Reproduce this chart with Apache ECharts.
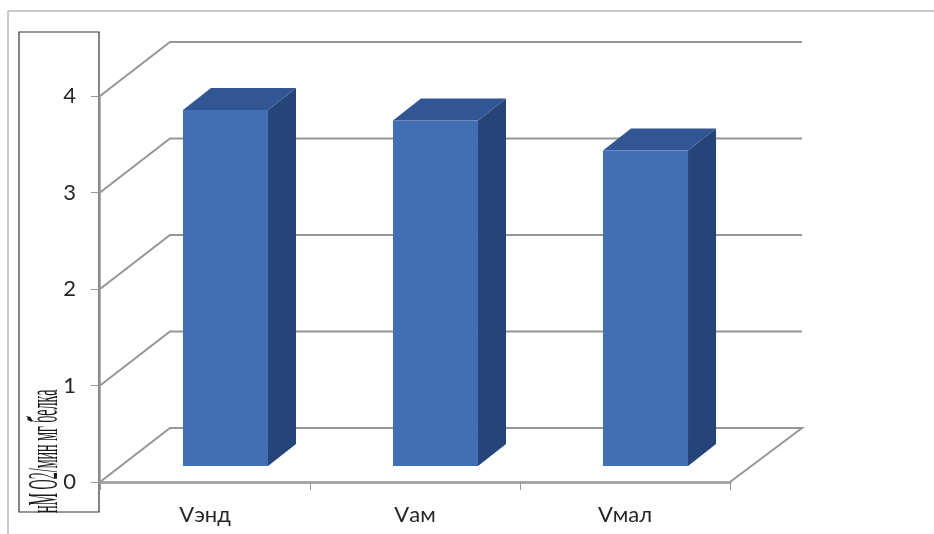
<!DOCTYPE html>
<html><head><meta charset="utf-8">
<style>html,body{margin:0;padding:0;background:#fff}#c{width:934px;height:534px}</style>
<script src="https://cdn.jsdelivr.net/npm/echarts@6/dist/echarts.min.js"></script>
</head><body><div id="c"></div>
<script>
const categories = ['Vэнд', 'Vам', 'Vмал'];
const values = [3.69, 3.58, 3.27];
const yTicks = [0, 1, 2, 3, 4];
const yTitle = 'нМ О2/мин мг белка';
const yTitleAccent = '´';

const FLOOR_DX = 70, FLOOR_DY = -54;
const BAR_SHIFT_X = 20.5, BAR_SHIFT_Y = -16;
const BAR_DX = 28, BAR_DY = -22;
const BAR_FRACTION = 0.405;
const GRID = '#969696', AXIS = '#a6a6a6', FRONT = '#426eb4', TOP = '#325594', SIDE = '#254579';

const chart = echarts.init(document.getElementById('c'), null, {renderer: 'canvas'});
chart.setOption({
  animation: false,
  backgroundColor: '#fff',
  grid: {left: 100, right: 204, top: 96, bottom: 52, containLabel: false},
  xAxis: {
    type: 'category', data: categories,
    axisLine: {lineStyle: {color: AXIS, width: 3}},
    axisTick: {show: true, length: 8, lineStyle: {color: GRID, width: 1}},
    axisLabel: {color: '#262626', fontFamily: 'Lato', fontSize: 22, margin: 22},
    splitLine: {show: false}
  },
  yAxis: {
    type: 'value', min: 0, max: 4, interval: 1,
    axisLine: {show: true, lineStyle: {color: GRID, width: 1.5}},
    axisTick: {show: true, length: 9, lineStyle: {color: GRID, width: 1}},
    axisLabel: {color: '#262626', fontFamily: 'Lato', fontSize: 22, margin: 24,
      formatter: v => yTicks.includes(v) ? String(v) : ''},
    splitLine: {show: false}
  },
  graphic: [
    {type: 'line', silent: true, shape: {x1: 8, y1: 534, x2: 8, y2: 11},
      style: {stroke: '#b9b9b9', lineWidth: 1.5}},
    {type: 'line', silent: true, shape: {x1: 8, y1: 11, x2: 934, y2: 11},
      style: {stroke: '#b9b9b9', lineWidth: 1.5}},
    {type: 'rect', silent: true, shape: {x: 19, y: 32, width: 80, height: 480},
      style: {fill: 'transparent', stroke: '#333', lineWidth: 1.2}},
    {type: 'text', silent: true, x: 67, y: 513, rotation: Math.PI / 2, scaleX: 0.335, scaleY: 1,
      style: {text: yTitle, font: '42px "Liberation Serif"', fill: '#1a1a1a',
        align: 'left', verticalAlign: 'bottom'}},
    {type: 'text', silent: true, x: 55, y: 423, rotation: Math.PI / 2, scaleX: 0.6, scaleY: 1,
      style: {text: yTitleAccent, font: '30px "Liberation Serif"', fill: '#1a1a1a',
        align: 'left', verticalAlign: 'bottom'}}
  ],
  series: [
    {
      type: 'custom', coordinateSystem: 'cartesian2d', silent: true, clip: false, z: 1,
      data: yTicks.map(v => [0, v]),
      encode: {x: 0, y: 1},
      renderItem(params, api) {
        const v = api.value(1);
        const band = api.size([1, 0])[0];
        const a = api.coord([0, v]); const b = api.coord([categories.length - 1, v]);
        const lx = a[0] - band / 2, rx = b[0] + band / 2, y = a[1];
        const pts = [[lx, y], [lx + FLOOR_DX, y + FLOOR_DY], [rx + FLOOR_DX + 2, y + FLOOR_DY]];
        if (v === 0) pts.push([rx, y]);
        return {type: 'polyline', shape: {points: pts},
          style: {stroke: GRID, lineWidth: 2, fill: 'none'}};
      }
    },
    {
      type: 'custom', coordinateSystem: 'cartesian2d', silent: true, clip: false, z: 3,
      data: values.map((v, i) => [i, v]),
      encode: {x: 0, y: 1},
      renderItem(params, api) {
        const i = api.value(0), v = api.value(1);
        const w = api.size([1, 0])[0] * BAR_FRACTION;
        const base = api.coord([i, 0]); const top = api.coord([i, v]);
        const x0 = base[0] + BAR_SHIFT_X - w / 2, x1 = x0 + w;
        const y0 = base[1] + BAR_SHIFT_Y, y1 = top[1] + BAR_SHIFT_Y;
        return {type: 'group', children: [
          {type: 'polygon', shape: {points: [[x1, y1], [x1 + BAR_DX, y1 + BAR_DY], [x1 + BAR_DX, y0 + BAR_DY], [x1, y0]]},
            style: {fill: SIDE}},
          {type: 'polygon', shape: {points: [[x0, y1], [x0 + BAR_DX, y1 + BAR_DY], [x1 + BAR_DX, y1 + BAR_DY], [x1, y1]]},
            style: {fill: TOP}},
          {type: 'rect', shape: {x: x0, y: y1, width: w, height: y0 - y1}, style: {fill: FRONT}}
        ]};
      }
    }
  ]
});
</script></body></html>
